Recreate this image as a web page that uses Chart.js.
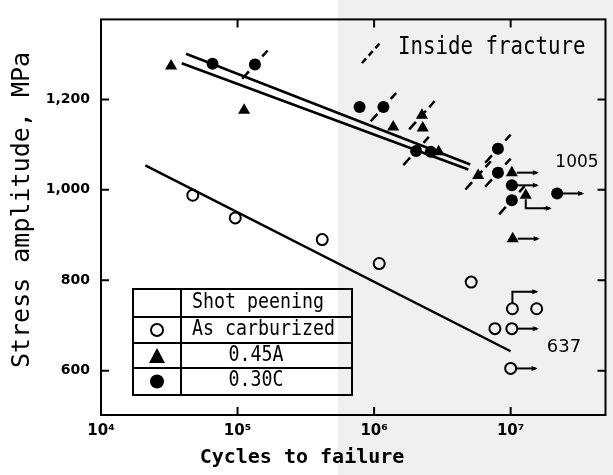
<!DOCTYPE html>
<html>
<head>
<meta charset="utf-8">
<script src="https://cdn.jsdelivr.net/npm/chart.js@4.4.1/dist/chart.umd.min.js"></script>
<style>
  html, body { margin: 0; padding: 0; background: #fff; }
</style>
</head>
<body>
<canvas id="chart" width="613" height="475"></canvas>
<script>
// ======== Axes ========
const xTicks = [1e4, 1e5, 1e6, 1e7];
const xTickLabels = ['10⁴', '10⁵', '10⁶', '10⁷'];
const yTicks = [600, 800, 1000, 1200];

// ======== As carburized (open circles) ========
const carbCycles = [47000, 96200, 417000, 1.09e6, 5.14e6, 1.03e7, 1.55e7, 7.67e6, 1.02e7, 1.0e7];
const carbStress = [988, 938, 890, 837, 796, 737, 737, 693, 693, 605];
const carbInside = [0, 0, 0, 0, 0, 0, 0, 0, 0, 0];
const carbRunout = ['', '', '', '', '', 'up', '', '', 'right', 'right'];

// ======== Shot peening 0.45A (triangles) ========
const a45Cycles = [32600, 111700, 1.38e6, 2.24e6, 2.27e6, 2.97e6, 5.78e6, 1.02e7, 1.29e7, 1.035e7];
const a45Stress = [1274, 1176, 1139, 1165, 1137, 1084, 1032, 1038, 988, 892];
const a45Inside = [0, 0, 0, 1, 0, 0, 1, 0, 0, 0];
const a45Runout = ['', '', '', '', '', '', '', 'right', 'down', 'right'];

// ======== Shot peening 0.30C (filled circles) ========
const c30Cycles = [65600, 134000, 7.83e5, 1.17e6, 2.03e6, 2.60e6, 8.07e6, 8.07e6, 1.02e7, 1.02e7, 2.19e7];
const c30Stress = [1279, 1277, 1183, 1183, 1086, 1084, 1091, 1038, 1010, 977, 992];
const c30Inside = [0, 1, 0, 1, 1, 0, 1, 1, 0, 1, 0];
const c30Runout = ['', '', '', '', '', '', '', '', 'right', '', 'right'];

// ======== Fit lines ========
const carbFitCycles = [21100, 1.0e7];
const carbFitStress = [1054, 643];
const peenUpCycles = [41900, 5.06e6];
const peenUpStress = [1301, 1056];
const peenLoCycles = [39000, 4.9e6];
const peenLoStress = [1280, 1045];

const toXY = (xs, ys) => xs.map((x, i) => ({ x: x, y: ys[i] }));

const MONO = '"DejaVu Sans Mono", monospace';
const SANS = '"DejaVu Sans", sans-serif';

function txt(ctx, s, x, y, font, sx, align) {
  ctx.save();
  ctx.translate(x, y);
  ctx.scale(sx, 1);
  ctx.font = font;
  ctx.fillStyle = '#000';
  ctx.textAlign = align || 'center';
  ctx.textBaseline = 'middle';
  ctx.fillText(s, 0, 0);
  ctx.restore();
}

function arrowRight(ctx, x0, x1, y) {
  ctx.beginPath();
  ctx.moveTo(x0, y);
  ctx.lineTo(x1, y);
  ctx.stroke();
  ctx.beginPath();
  ctx.moveTo(x1 + 2, y);
  ctx.lineTo(x1 - 4, y - 2.5);
  ctx.lineTo(x1 - 4, y + 2.5);
  ctx.closePath();
  ctx.fill();
}

// background, with the grey scan tone on the right
const bgPlugin = {
  id: 'bg',
  beforeDraw(chart) {
    const c = chart.ctx;
    c.save();
    c.fillStyle = '#fff';
    c.fillRect(0, 0, chart.width, chart.height);
    c.fillStyle = '#f0f0f0';
    c.fillRect(338, 0, chart.width - 338, chart.height);
    c.restore();
  }
};

// frame, inward ticks, runouts, inside-fracture marks, legend, texts
const decoPlugin = {
  id: 'deco',
  afterDatasetsDraw(chart) {
    const c = chart.ctx;
    const a = chart.chartArea;
    const xs = chart.scales.x, ys = chart.scales.y;
    c.save();
    c.strokeStyle = '#000';
    c.fillStyle = '#000';
    c.lineWidth = 2;
    c.strokeRect(a.left, a.top, a.right - a.left, a.bottom - a.top);

    c.beginPath();
    yTicks.forEach(v => {
      const y = ys.getPixelForValue(v);
      c.moveTo(a.left, y); c.lineTo(a.left + 8, y);
      c.moveTo(a.right, y); c.lineTo(a.right - 8, y);
    });
    xTicks.slice(1).forEach(v => {
      const x = xs.getPixelForValue(v);
      c.moveTo(x, a.bottom); c.lineTo(x, a.bottom - 8);
      c.moveTo(x, a.top); c.lineTo(x, a.top + 8);
    });
    c.stroke();

    // runouts and inside fracture dashes
    const groups = [
      [0, carbRunout, carbInside],
      [1, a45Runout, a45Inside],
      [2, c30Runout, c30Inside]
    ];
    groups.forEach(([di, runs, ins]) => {
      const pts = chart.getDatasetMeta(di).data;
      pts.forEach((p, i) => {
        c.lineWidth = 2;
        c.setLineDash([]);
        if (runs[i] === 'right') {
          arrowRight(c, p.x + 5, p.x + 25, p.y);
        } else if (runs[i] === 'up') {
          c.beginPath();
          c.moveTo(p.x, p.y - 5);
          c.lineTo(p.x, p.y - 17);
          c.lineTo(p.x + 20, p.y - 17);
          c.stroke();
          arrowRight(c, p.x + 18, p.x + 24, p.y - 17);
        } else if (runs[i] === 'down') {
          c.beginPath();
          c.moveTo(p.x, p.y + 4);
          c.lineTo(p.x, p.y + 13);
          c.lineTo(p.x + 20, p.y + 13);
          c.stroke();
          arrowRight(c, p.x + 18, p.x + 24, p.y + 13);
        }
        if (ins[i]) {
          const ang = 48 * Math.PI / 180, h = 19;
          c.lineWidth = 2.5;
          c.setLineDash([10, 5]);
          c.beginPath();
          c.moveTo(p.x - h * Math.cos(ang), p.y + h * Math.sin(ang));
          c.lineTo(p.x + h * Math.cos(ang), p.y - h * Math.sin(ang));
          c.stroke();
        }
      });
    });
    c.setLineDash([]);

    // legend table
    const L = 133, M = 181, R = 352;
    const rows = [289, 317, 343, 368, 395];
    c.lineWidth = 2;
    c.strokeRect(L, rows[0], R - L, rows[4] - rows[0]);
    c.beginPath();
    rows.slice(1, 4).forEach(y => { c.moveTo(L, y); c.lineTo(R, y); });
    c.moveTo(M, rows[0]); c.lineTo(M, rows[4]);
    c.stroke();
    const mx = (L + M) / 2;
    c.beginPath();
    c.arc(mx, 330, 6, 0, Math.PI * 2);
    c.stroke();
    c.beginPath();
    c.moveTo(mx, 348); c.lineTo(mx + 8, 363); c.lineTo(mx - 8, 363);
    c.closePath();
    c.fill();
    c.beginPath();
    c.arc(mx, 381.5, 7, 0, Math.PI * 2);
    c.fill();
    txt(c, 'Shot peening', 192, 303, '21px ' + MONO, 0.87, 'left');
    txt(c, 'As carburized', 192, 330, '21px ' + MONO, 0.87, 'left');
    txt(c, '0.45A', 256, 356, '21px ' + MONO, 0.87, 'center');
    txt(c, '0.30C', 256, 381, '21px ' + MONO, 0.87, 'center');

    // inside fracture key
    c.lineWidth = 2.5;
    c.setLineDash([6, 4]);
    c.beginPath();
    c.moveTo(362, 63); c.lineTo(380, 43);
    c.stroke();
    c.setLineDash([]);
    txt(c, 'Inside fracture', 398, 48, '24px ' + MONO, 0.865, 'left');

    // values
    txt(c, '1005', 577, 163, '17px ' + SANS, 1, 'center');
    txt(c, '637', 564, 347, '18px ' + SANS, 1, 'center');

    // axis titles
    txt(c, 'Cycles to failure', 302, 458, 'bold 20px ' + MONO, 1, 'center');
    c.save();
    c.translate(22, 210);
    c.rotate(-Math.PI / 2);
    txt(c, 'Stress amplitude, MPa', 0, 0, '25px ' + MONO, 1, 'center');
    c.restore();
    c.restore();
  }
};

const lineDs = (data) => ({
  type: 'line', data: data, showLine: true, pointRadius: 0,
  borderColor: '#000', borderWidth: 2.5, fill: false
});

const ctx = document.getElementById('chart').getContext('2d');
const chart = new Chart(ctx, {
  type: 'scatter',
  data: {
    datasets: [
      { label: 'As carburized', data: toXY(carbCycles, carbStress), pointStyle: 'circle',
        pointRadius: 5.5, borderWidth: 2, borderColor: '#000', backgroundColor: 'rgba(255,255,255,0)' },
      { label: '0.45A', data: toXY(a45Cycles, a45Stress), pointStyle: 'triangle',
        pointRadius: 7, borderWidth: 0, borderColor: '#000', backgroundColor: '#000' },
      { label: '0.30C', data: toXY(c30Cycles, c30Stress), pointStyle: 'circle',
        pointRadius: 6, borderWidth: 0, borderColor: '#000', backgroundColor: '#000' },
      lineDs(toXY(carbFitCycles, carbFitStress)),
      lineDs(toXY(peenUpCycles, peenUpStress)),
      lineDs(toXY(peenLoCycles, peenLoStress))
    ]
  },
  options: {
    responsive: false,
    animation: false,
    layout: { padding: { top: 14, right: 1, left: 0, bottom: 0 } },
    plugins: { legend: { display: false }, tooltip: { enabled: false } },
    scales: {
      x: {
        type: 'logarithmic', min: 1e4, max: 4.95e7,
        afterBuildTicks: s => { s.ticks = xTicks.map(v => ({ value: v })); },
        afterFit: s => { s.height = 60; },
        grid: { display: false, drawTicks: false },
        border: { display: false },
        ticks: {
          autoSkip: false, maxRotation: 0, padding: 7, color: '#000',
          font: { family: 'DejaVu Sans', size: 15, weight: 'bold' },
          callback: (v, i) => xTickLabels[i]
        }
      },
      y: {
        type: 'linear', min: 502, max: 1377,
        afterBuildTicks: s => { s.ticks = yTicks.map(v => ({ value: v })); },
        afterFit: s => { s.width = 101; },
        grid: { display: false, drawTicks: false },
        border: { display: false },
        ticks: {
          padding: 11, color: '#000',
          font: { family: 'DejaVu Sans', size: 14, weight: 'bold' },
          callback: v => v.toLocaleString('en-US')
        }
      }
    }
  },
  plugins: [bgPlugin, decoPlugin]
});
</script>
</body>
</html>
